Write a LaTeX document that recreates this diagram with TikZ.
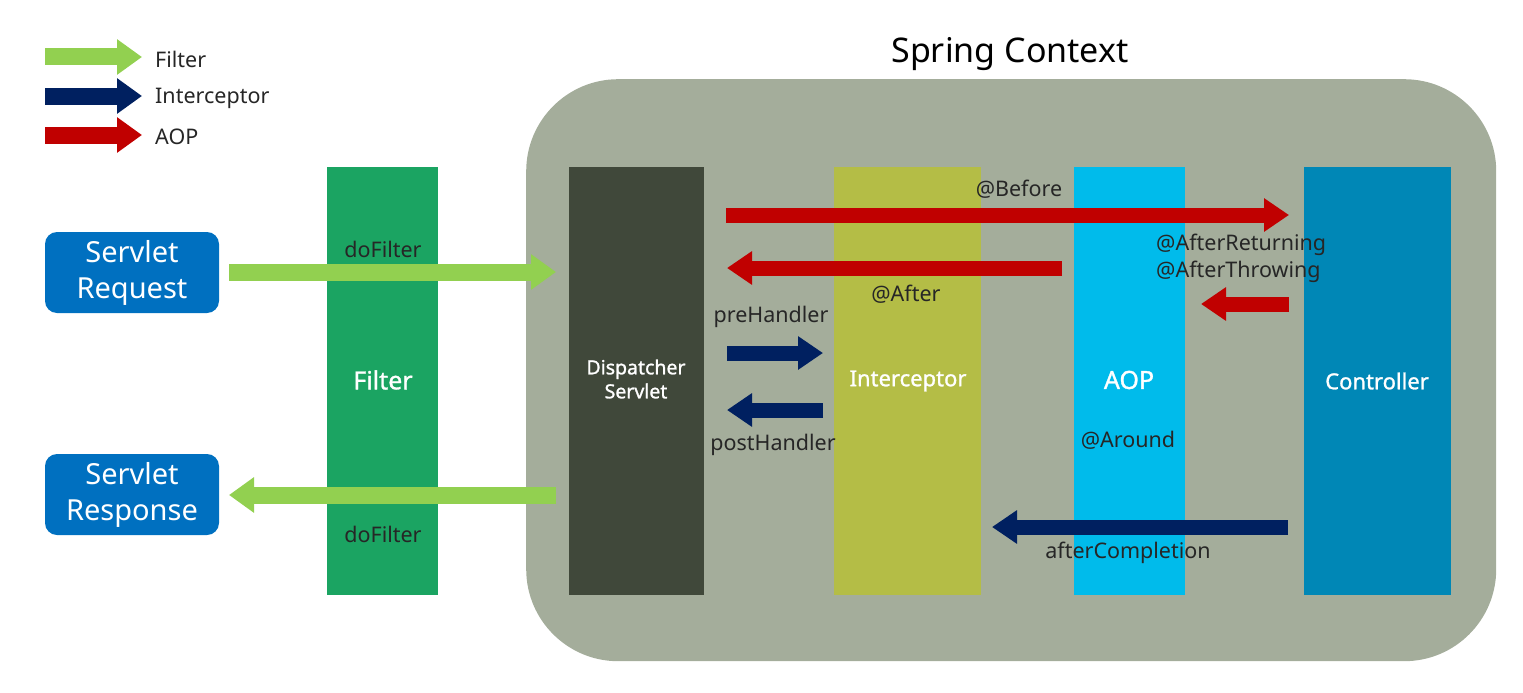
\documentclass[tikz,border=0pt]{standalone}
\usepackage{fontspec}
\setmainfont{Noto Sans}[AutoFakeBold=1.2]
\usetikzlibrary{arrows.meta}
\definecolor{ctxgray}{HTML}{A4AD9B}
\definecolor{filtergreen}{HTML}{1BA462}
\definecolor{dispgray}{HTML}{40483A}
\definecolor{intolive}{HTML}{B4BD46}
\definecolor{aopcyan}{HTML}{00BBEB}
\definecolor{ctrlblue}{HTML}{0087B6}
\definecolor{servblue}{HTML}{0070C0}
\definecolor{arrgreen}{HTML}{92D050}
\definecolor{arrnavy}{HTML}{002060}
\definecolor{arrred}{HTML}{C00000}
\tikzset{
  colbox/.style={inner sep=0pt, outer sep=0pt, text=white, align=center},
  servbox/.style={fill=servblue, rounded corners=12pt, minimum width=174pt, minimum height=81pt,
    inner sep=0pt, text=white, align=center, font=\fontsize{29}{36}\selectfont},
  lbl/.style={font=\fontsize{21.5}{27}\selectfont, inner sep=0pt, text=black!85},
  collbl/.style={text=white, inner sep=0pt},
  bigarrow/.style={line width=17pt, -{Triangle[width=34pt,length=25pt]}},
  midarrow/.style={line width=15pt, -{Triangle[width=32pt,length=25pt]}},
}
\begin{document}
\begin{tikzpicture}[x=1pt,y=-1pt]
\useasboundingbox (0,0) rectangle (1523,693);
% Spring context
\node[fill=ctxgray, rounded corners=92pt, minimum width=970pt, minimum height=582pt, inner sep=0pt, anchor=north west] (ctx) at (526,79) {};
\node[font=\fontsize{34}{40}\selectfont, anchor=base] (ctxtitle) at (1010,63) {Spring Context};
% columns
\node[colbox, fill=filtergreen, minimum width=111pt, minimum height=428pt, anchor=north west] (filter) at (327,167) {};
\node[colbox, fill=dispgray, minimum width=135pt, minimum height=428pt, anchor=north west] (disp) at (569,167) {};
\node[colbox, fill=intolive, minimum width=147pt, minimum height=428pt, anchor=north west] (inter) at (834,167) {};
\node[colbox, fill=aopcyan, minimum width=111pt, minimum height=428pt, anchor=north west] (aop) at (1074,167) {};
\node[colbox, fill=ctrlblue, minimum width=147pt, minimum height=428pt, anchor=north west] (ctrl) at (1304,167) {};
\node[collbl, font=\fontsize{25}{30}\selectfont\bfseries] (filterlbl) at (383,380) {Filter};
\node[collbl, align=center, font=\fontsize{19.5}{24}\selectfont\bfseries] (displbl) at (636,379) {Dispatcher\\Servlet};
\node[collbl, font=\fontsize{22}{26}\selectfont\bfseries] (interlbl) at (908,381) {Interceptor};
\node[collbl, font=\fontsize{25}{30}\selectfont\bfseries] (aoplbl) at (1129,380) {AOP};
\node[collbl, font=\fontsize{22}{26}\selectfont\bfseries] (ctrllbl) at (1377,381) {Controller};
% servlet boxes
\node[servbox] (req) at (132,272.5) {Servlet\\Request};
\node[servbox] (resp) at (132,494.5) {Servlet\\Response};
% legend
\coordinate (lf1) at (45,57); \coordinate (lf2) at (142,57);
\coordinate (li1) at (45,96); \coordinate (li2) at (142,96);
\coordinate (la1) at (45,135); \coordinate (la2) at (142,135);
\draw[bigarrow, arrgreen] (lf1) -- (lf2);
\draw[bigarrow, arrnavy] (li1) -- (li2);
\draw[bigarrow, arrred] (la1) -- (la2);
\node[lbl, anchor=west] (legf) at (155,59) {Filter};
\node[lbl, anchor=west] (legi) at (155,98) {Interceptor};
\node[lbl, anchor=west] (lega) at (155,137) {AOP};
% filter arrows
\coordinate (rqs) at (229,272); \coordinate (rqe) at (556,272);
\coordinate (rss) at (556,495); \coordinate (rse) at (229,495);
\draw[bigarrow, arrgreen] (rqs) -- (rqe);
\draw[bigarrow, arrgreen] (rss) -- (rse);
\node[lbl] (df1) at (383,249) {doFilter};
\node[lbl] (df2) at (383,534) {doFilter};
% AOP arrows
\coordinate (bs) at (726,215); \coordinate (be) at (1289,215);
\coordinate (as) at (1062,268); \coordinate (ae) at (727,268);
\coordinate (ars) at (1289,304); \coordinate (are) at (1201,304);
\draw[midarrow, arrred] (bs) -- (be);
\draw[midarrow, arrred] (as) -- (ae);
\draw[midarrow, arrred] (ars) -- (are);
\node[lbl] (before) at (1019,189) {@Before};
\node[lbl, anchor=west] (afret) at (1156,245) {@AfterReturning};
\node[lbl, anchor=west] (afthr) at (1156,272) {@AfterThrowing};
\node[lbl] (after) at (906,294) {@After};
% interceptor arrows
\coordinate (ps) at (727,353); \coordinate (pe) at (823,353);
\coordinate (qs) at (823,410); \coordinate (qe) at (727,410);
\coordinate (cs) at (1288,527); \coordinate (ce) at (992,527);
\draw[midarrow, arrnavy] (ps) -- (pe);
\draw[midarrow, arrnavy] (qs) -- (qe);
\draw[midarrow, arrnavy] (cs) -- (ce);
\node[lbl] (pre) at (771,317) {preHandler};
\node[lbl] (post) at (773,445) {postHandler};
\node[lbl] (around) at (1128,440) {@Around};
\node[lbl] (afc) at (1128,553) {afterCompletion};
\end{tikzpicture}
\end{document}
